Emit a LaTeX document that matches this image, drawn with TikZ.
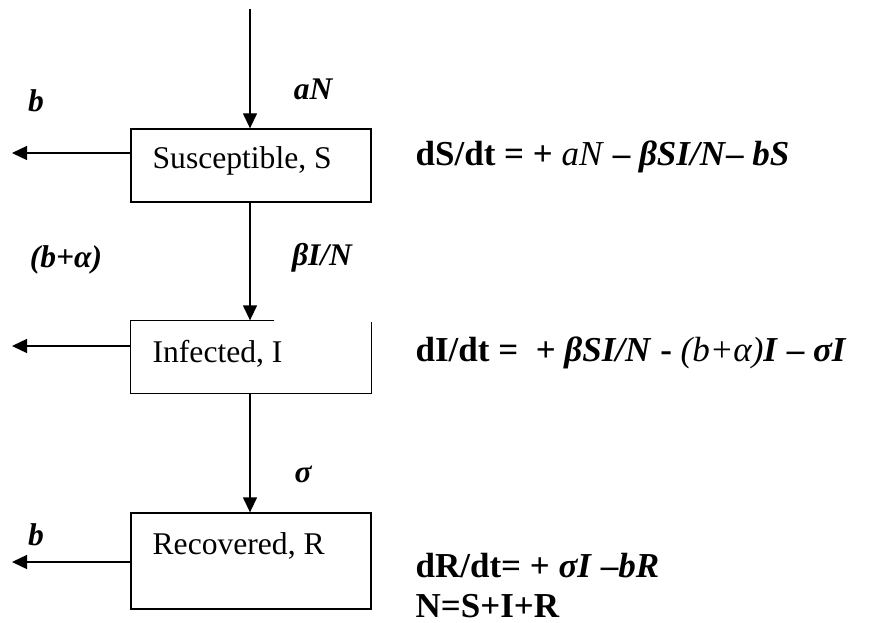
\documentclass[tikz,border=0pt]{standalone}
\usepackage{fontspec}
\setmainfont{Liberation Serif}
\usetikzlibrary{arrows.meta,calc}

\begin{document}
\begin{tikzpicture}[x=1pt,y=-1pt,line width=1.3pt,
  box/.style={draw,minimum width=240pt,inner sep=0pt},
  flow/.style={-{Triangle[length=15pt,width=14pt]}},
  rate/.style={font=\fontsize{31.5}{36}\selectfont\bfseries\itshape,inner sep=0pt},
  compname/.style={font=\fontsize{31.6}{38}\selectfont,anchor=base west,inner sep=0pt},
  eqn/.style={font=\fontsize{35}{40}\selectfont\bfseries,anchor=base west,inner sep=0pt}]
  \useasboundingbox (0,0) rectangle (869,623);

  % compartments
  \node[box,minimum height=73pt] (S) at (251,165.5) {};
  \node[box,draw=none,minimum height=72pt] (I) at (251,357) {};
  \node[box,minimum height=96pt] (R) at (251,561) {};
  \draw ($(I.north west)+(144,0)$) -- (I.north west) -- (I.south west)
    -- (I.south east) -- ([yshift=-2pt]I.north east);

  \node[compname] (Stxt) at (152,168) {Susceptible, S};
  \node[compname] (Itxt) at (152,362) {Infected, I};
  \node[compname] (Rtxt) at (152,554) {Recovered, R};

  % flows
  \coordinate (in) at (250,9);
  \coordinate (outS) at (12,153);
  \coordinate (outI) at (12,346);
  \coordinate (outR) at (12,562);
  \draw[flow] (in) -- (in |- S.north);
  \draw[flow] (S.south -| in) -- (in |- I.north);
  \draw[flow] (I.south -| in) -- (in |- R.north);
  \draw[flow] (outS -| S.west) -- (outS);
  \draw[flow] (outI -| I.west) -- (outI);
  \draw[flow] (outR -| R.west) -- (outR);

  % rates
  \node[rate] (bS) at (36,101) {b};
  \node[rate] (aN) at (313,89) {aN};
  \node[rate] (bA) at (66,260) {(b+α)};
  \node[rate] (beta) at (322,258) {βI/N};
  \node[rate] (sigma) at (303,474) {σ};
  \node[rate] (bR) at (36,535) {b};

  % equations
  \node[eqn] (dS) at (415,165) {dS/dt = + \textmd{\textit{aN}} – \textit{βSI/N}– \textit{bS}};
  \node[eqn] (dI) at (415,361) {dI/dt =\ \ + \textit{βSI/N} - \textmd{\textit{(b+α)}}\textit{I} – \textit{σI}};
  \node[eqn] (dR) at (415,577) {dR/dt= + \textit{σI} –\textit{bR}};
  \node[eqn] (N) at (415,617) {N=S+I+R};
\end{tikzpicture}
\end{document}
